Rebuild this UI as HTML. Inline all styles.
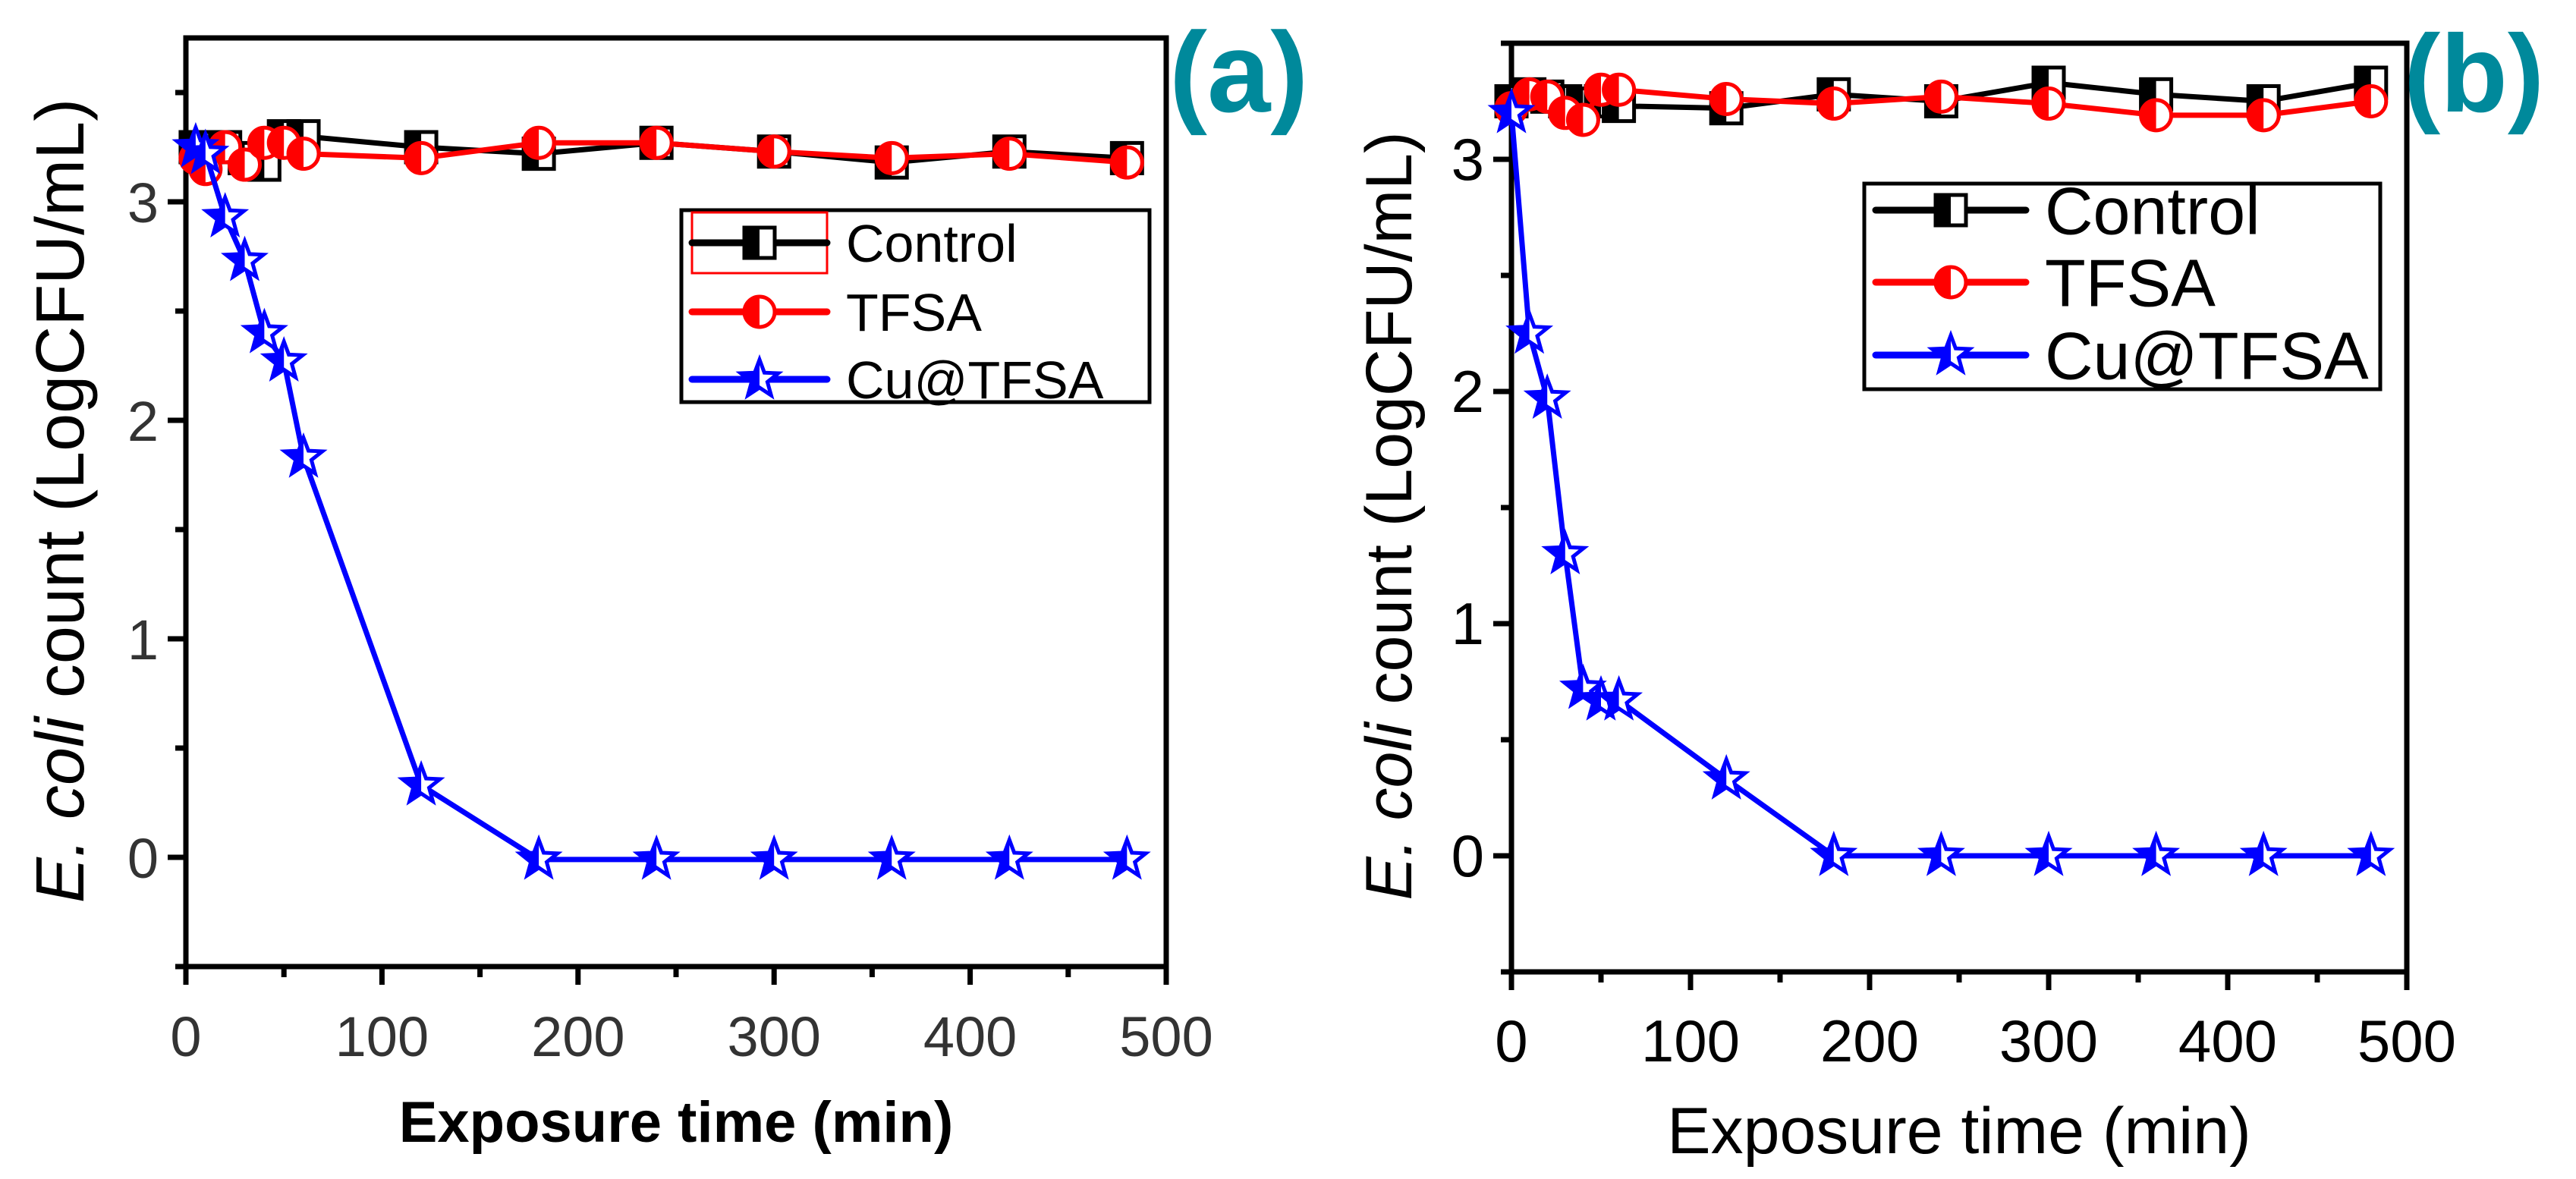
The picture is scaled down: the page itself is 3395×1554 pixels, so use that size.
<!DOCTYPE html>
<html><head><meta charset="utf-8"><style>
html,body{margin:0;padding:0;background:#fff}
svg{display:block}
text{font-family:"Liberation Sans",Arial,sans-serif}
</style></head><body>
<svg id="fig" width="3395" height="1554" viewBox="0 0 3395 1554" xmlns="http://www.w3.org/2000/svg"></svg>
<script>
// ---- data ----
const timesA = [5,10,20,30,40,50,60,120,180,240,300,360,420,480];
const controlA = [3.25,3.25,3.25,3.2,3.17,3.3,3.3,3.25,3.22,3.27,3.23,3.18,3.23,3.2];
const tfsaA = [3.2,3.15,3.25,3.17,3.27,3.27,3.22,3.2,3.27,3.27,3.23,3.2,3.22,3.18];
const cuA = [3.25,3.22,2.93,2.73,2.4,2.27,1.83,0.33,-0.01,-0.01,-0.01,-0.01,-0.01,-0.01];
const timesB = [0,10,20,30,40,50,60,120,180,240,300,360,420,480];
const controlB = [3.25,3.28,3.27,3.25,3.24,3.25,3.23,3.22,3.28,3.25,3.33,3.28,3.25,3.33];
const tfsaB = [3.22,3.28,3.27,3.2,3.17,3.3,3.3,3.26,3.24,3.27,3.24,3.19,3.19,3.25];
const cuB = [3.2,2.25,1.97,1.3,0.72,0.67,0.67,0.33,0,0,0,0,0,0];
const xTicks = [0,100,200,300,400,500];
const yTicks = [0,1,2,3];
const legendLabels = ["Control","TFSA","Cu@TFSA"];

const NS="http://www.w3.org/2000/svg";
const svg=document.getElementById('fig');
function mk(tag,attrs,parent){const e=document.createElementNS(NS,tag);for(const k in attrs)e.setAttribute(k,attrs[k]);(parent||svg).appendChild(e);return e;}
let clipId=0;
function starPts(cx,cy,R){const r=R*0.42;let p=[];for(let i=0;i<10;i++){const a=-Math.PI/2+i*Math.PI/5;const rr=i%2?r:R;p.push((cx+rr*Math.cos(a)).toFixed(1)+','+(cy+rr*Math.sin(a)).toFixed(1));}return p.join(' ');}

function marker(g,kind,cx,cy,s,name){
  const m=mk('g',{},g);
  if(kind==='sq'){
    mk('rect',{x:cx-s,y:cy-s,width:2*s,height:2*s,fill:'#fff',stroke:'#000','stroke-width':5},m);
    mk('rect',{x:cx-s,y:cy-s,width:s,height:2*s,fill:'#000'},m);
  } else if(kind==='ci'){
    mk('circle',{cx:cx,cy:cy,r:s,fill:'#fff',stroke:'#f00','stroke-width':5},m);
    mk('path',{d:`M${cx},${cy-s} A${s},${s} 0 0 0 ${cx},${cy+s} Z`,fill:'#f00'},m);
  } else {
    const id='clp'+(clipId++);
    mk('polygon',{points:starPts(cx,cy,s*1.3),fill:'#fff',stroke:'#00f','stroke-width':5},m);
    const cl=mk('clipPath',{id:id},m);mk('rect',{x:cx-2*s,y:cy-2*s,width:2*s,height:4*s},cl);
    mk('polygon',{points:starPts(cx,cy,s*1.3),fill:'#00f','clip-path':'url(#'+id+')'},m);
  }
  
  
}

function panel(o){
  const g=mk('g',{});
  
  
  const X=v=>o.x0+(v-0)/500*(o.x1-o.x0);
  const Y=v=>o.yZero-(v)*o.unit;
  const yTop=Y(o.yMax), yBot=Y(-0.5);
  const fr=mk('rect',{x:o.x0,y:yTop,width:o.x1-o.x0,height:yBot-yTop,fill:'none',stroke:'#000','stroke-width':7},g);
  
  for(let v=0;v<=500;v+=50){
    const major=v%100===0;
    mk('line',{x1:X(v),x2:X(v),y1:yBot,y2:yBot+(major?24:14),stroke:'#000','stroke-width':7},g);
  }
  xTicks.forEach(v=>{const t=mk('text',{x:X(v),y:yBot+118,'font-size':o.tickFs,'text-anchor':'middle',fill:o.tickCol},g);t.textContent=v;
    });
  for(let v=-0.5;v<=o.yMax+0.001;v+=0.5){
    const major=Math.abs(v-Math.round(v))<0.01;
    mk('line',{x1:o.x0-(major?24:14),x2:o.x0,y1:Y(v),y2:Y(v),stroke:'#000','stroke-width':7},g);
  }
  yTicks.forEach(v=>{const t=mk('text',{x:o.x0-36,y:Y(v)+27,'font-size':o.tickFs,'text-anchor':'end',fill:o.tickCol},g);t.textContent=v;
    });
  const xt=mk('text',{x:(o.x0+o.x1)/2,y:o.xTitleY,'font-size':o.titleFs,'font-weight':o.xBold?'bold':'normal','text-anchor':'middle',fill:'#000'},g);
  xt.textContent='Exposure time (min)';
  const yt=mk('text',{x:0,y:0,'font-size':o.yTitleFs,'text-anchor':'middle',fill:'#000',transform:`translate(${o.yTitleX},${o.yTitleC}) rotate(-90)`},g);
  yt.innerHTML='<tspan font-style="italic">E. coli</tspan> count (LogCFU/mL)';
  
  const series=[[o.control,'#000','sq','control'],[o.tfsa,'#f00','ci','tfsa'],[o.cu,'#00f','st','cu-tfsa']];
  series.forEach(([vals,col,kind,nm])=>{
    const pts=o.times.map((t,i)=>X(t)+','+Y(vals[i])).join(' ');
    const pl=mk('polyline',{points:pts,fill:'none',stroke:col,'stroke-width':7,'stroke-linejoin':'round'},g);
    
    o.times.forEach((t,i)=>marker(g,kind,X(t),Y(vals[i]),o.ms,nm+'-point'));
  });
  const lg=mk('g',{},g);
  
  mk('rect',{x:o.lg.x,y:o.lg.y,width:o.lg.w,height:o.lg.h,fill:'#fff',stroke:'#000','stroke-width':5},lg);
  if(o.redBox) mk('rect',{x:o.lg.lx1,y:o.lg.rows[0]-40,width:o.lg.lx2-o.lg.lx1,height:80,fill:'none',stroke:'#f00','stroke-width':3},lg);
  series.forEach(([vals,col,kind,nm],i)=>{
    const cy=o.lg.rows[i];
    const e=mk('g',{},lg);
    
    mk('line',{x1:o.lg.lx1,x2:o.lg.lx2,y1:cy,y2:cy,stroke:col,'stroke-width':9,'stroke-linecap':'round'},e);
    marker(e,kind,(o.lg.lx1+o.lg.lx2)/2,cy,o.ms,'legend-marker');
    const t=mk('text',{x:o.lg.tx,y:cy+o.lgFs*0.36,'font-size':o.lgFs,fill:'#000'},e);t.textContent=legendLabels[i];
  });
  const pl=mk('text',{x:o.lab.x,y:o.lab.y,'font-size':o.lab.fs,'font-weight':'bold',fill:'#00899b'},g);
  pl.textContent=o.lab.t;
}

panel({id:'panel-a',x0:245,x1:1537,yZero:1130,unit:288,yMax:3.75,
  times:timesA,control:controlA,tfsa:tfsaA,cu:cuA,ms:20,tickFs:74,tickCol:'#333',titleFs:76,xBold:true,xTitleY:1505,
  yTitleFs:90,yTitleX:110,yTitleC:660,redBox:true,
  lg:{x:898,y:277,w:617,h:253,rows:[320,411,500],lx1:912,lx2:1090,tx:1115},lgFs:70,
  lab:{x:1541,y:147,t:'(a)',fs:150}});
panel({id:'panel-b',x0:1992,x1:3172,yZero:1128,unit:306,yMax:3.5,
  times:timesB,control:controlB,tfsa:tfsaB,cu:cuB,ms:20,tickFs:78,tickCol:'#000',titleFs:86,xBold:false,xTitleY:1520,
  yTitleFs:86,yTitleX:1860,yTitleC:680,redBox:false,
  lg:{x:2457,y:242,w:680,h:271,rows:[277,372,468],lx1:2472,lx2:2670,tx:2695},lgFs:88,
  lab:{x:3168,y:147,t:'(b)',fs:145}});
</script>
</body></html>
